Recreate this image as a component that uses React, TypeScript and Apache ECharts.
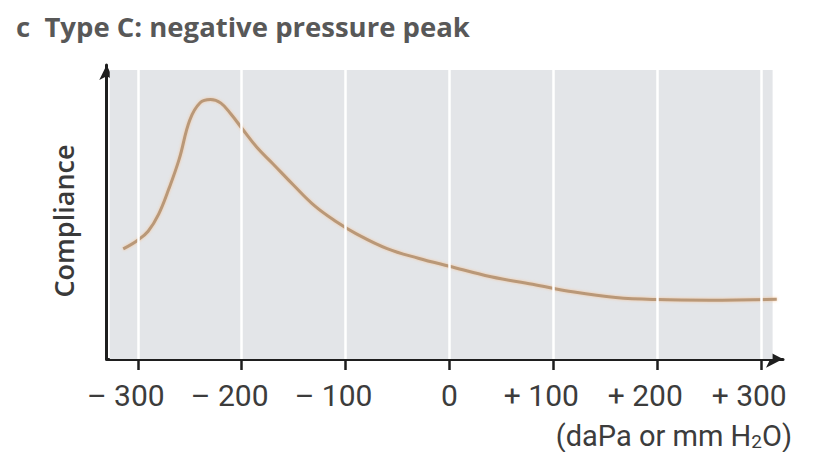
import React, { useEffect, useRef } from "react";
import * as echarts from "echarts";

const titleText = "c  Type C: negative pressure peak";
const yAxisTitle = "Compliance";
const unitText = "(daPa or mm H{sub|2}O)";
const xTicks = [-300, -200, -100, 0, 100, 200, 300];
const pressure = [
  -314, -300, -290, -280, -270, -260, -250, -240, -230, -220, -210, -200, -185, -170, -150,
  -130, -110, -90, -60, -30, 0, 40, 80, 120, 160, 200, 250, 315,
];
const compliance = [
  36.7, 39.6, 42.6, 48.2, 56.8, 66.8, 79.6, 85.4, 86.5, 85.3, 81.5, 77, 70.4, 65.1, 57.9,
  51.1, 46, 41.8, 36.8, 33.6, 30.9, 27.4, 24.9, 22.3, 20.5, 19.8, 19.6, 19.9,
];

const labelFont = "Roboto, 'Liberation Sans', sans-serif";
const textFont = "'Open Sans', 'Noto Sans', sans-serif";

export default function App() {
  const ref = useRef<HTMLDivElement>(null);
  useEffect(() => {
    if (!ref.current) return;
    const chart = echarts.init(ref.current, undefined, { renderer: "svg" });
    const curve = pressure.map((x, i) => [x, compliance[i]]);
    chart.setOption({
      animation: false,
      backgroundColor: "#ffffff",
      title: {
        text: titleText,
        left: 11,
        top: 7,
        textStyle: { fontFamily: textFont, fontSize: 27.5, fontWeight: 700, color: "#585858" },
      },
      grid: { left: 106.6, right: 30, top: 65, bottom: 93 },
      xAxis: {
        type: "value",
        min: -330,
        max: 321,
        splitLine: { show: false },
        axisLine: {
          show: true,
          onZero: false,
          symbol: ["none", "arrow"],
          symbolSize: [13, 17],
          lineStyle: { color: "#1e1e1e", width: 3 },
        },
        axisTick: {
          show: true,
          customValues: xTicks,
          length: 11,
          lineStyle: { color: "#1e1e1e", width: 2.5 },
        },
        axisLabel: {
          customValues: xTicks,
          showMinLabel: true,
          showMaxLabel: true,
          hideOverlap: false,
          margin: 21,
          formatter: (v: number) => {
            if (v === 0) return "{t|0}";
            const s = v < 0 ? "\u2013 " : "+ ";
            return `{t|${s}${Math.abs(v)}}{p| }`;
          },
          rich: {
            t: { fontFamily: labelFont, fontSize: 30, color: "#3c3c3c" },
            p: { width: 24, fontSize: 30 },
          },
        },
      },
      yAxis: {
        type: "value",
        min: 0,
        max: 98,
        splitLine: { show: false },
        axisTick: { show: false },
        axisLabel: { show: false },
        axisLine: {
          show: true,
          onZero: false,
          symbol: ["none", "arrow"],
          symbolSize: [11, 15],
          lineStyle: { color: "#1e1e1e", width: 3 },
        },
      },
      graphic: [
        {
          type: "text",
          x: 63,
          y: 221,
          rotation: Math.PI / 2,
          style: {
            text: yAxisTitle,
            fontFamily: textFont,
            fontSize: 27,
            fontWeight: 600,
            fill: "#3a3a3a",
            textAlign: "center",
            textVerticalAlign: "middle",
          },
        },
        {
          type: "text",
          right: 21,
          top: 421,
          style: {
            text: unitText,
            fontFamily: labelFont,
            fontSize: 29,
            fill: "#3c3c3c",
            rich: {
              sub: { fontFamily: labelFont, fontSize: 19, fill: "#3c3c3c", padding: [12, 0, 0, 0] },
            },
          },
        },
      ],
      series: [
        {
          type: "line",
          data: [],
          z: 1,
          silent: true,
          markArea: {
            silent: true,
            itemStyle: { color: "#e3e5e8" },
            data: [[{ coord: [-327, 0] }, { coord: [311, 96.3] }]],
          },
        },
        {
          type: "line",
          data: [],
          z: 2,
          silent: true,
          markLine: {
            silent: true,
            symbol: "none",
            label: { show: false },
            lineStyle: { color: "#ffffff", width: 2.5, type: "solid" },
            data: xTicks.map((x) => ({ xAxis: x })),
          },
        },
        {
          type: "line",
          data: curve,
          z: 3,
          smooth: 0.4,
          showSymbol: false,
          lineStyle: {
            color: "#b99878",
            width: 3,
            shadowColor: "rgba(245,190,140,0.8)",
            shadowBlur: 3,
          },
        },
      ],
    });
    return () => chart.dispose();
  }, []);
  return <div ref={ref} style={{ width: 813, height: 452, position: "absolute", left: 0, top: 0 }} />;
}
